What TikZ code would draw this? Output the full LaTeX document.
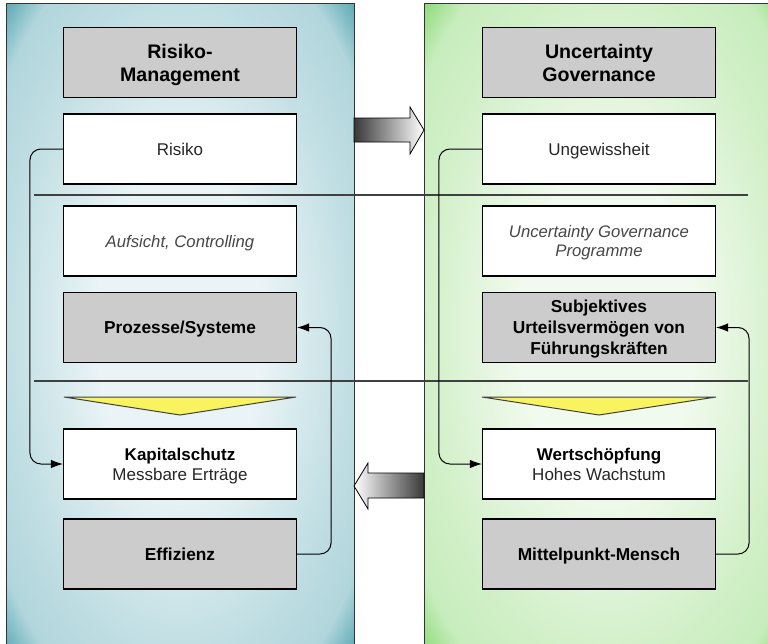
\documentclass[tikz,border=0pt]{standalone}
\usepackage{fontspec}
\setmainfont{Liberation Sans}
\definecolor{TealIn}{HTML}{EAF4F6}
\definecolor{TealMid}{HTML}{C0DEE3}
\definecolor{TealOut}{HTML}{5AA7B3}
\definecolor{GreenIn}{HTML}{F1FAEE}
\definecolor{GreenMid}{HTML}{D2F0C9}
\definecolor{GreenOut}{HTML}{8CDA78}
\definecolor{BoxGray}{HTML}{CCCCCC}
\definecolor{FunnelYellow}{HTML}{F8F35E}
\usetikzlibrary{
  arrows.meta,
  positioning
}
\pgfdeclareradialshading{tealpanel}{\pgfpoint{0bp}{0bp}}{%
  color(0bp)=(TealIn); color(12bp)=(TealIn); color(25bp)=(TealMid);
  color(31.5bp)=(TealMid!85!TealOut); color(35.5bp)=(TealOut); color(50bp)=(TealOut)}
\pgfdeclareradialshading{greenpanel}{\pgfpoint{0bp}{0bp}}{%
  color(0bp)=(GreenIn); color(12bp)=(GreenIn); color(25bp)=(GreenMid);
  color(31.5bp)=(GreenMid!85!GreenOut); color(35.5bp)=(GreenOut); color(50bp)=(GreenOut)}

\begin{document}
\begin{tikzpicture}[
  x=1pt, y=-1pt,
  box/.style={
    rectangle, draw=black, line width=1.1pt,
    minimum width=233pt, minimum height=70pt,
    inner sep=2pt, align=center, text depth=0pt,
    font=\fontsize{17}{20}\selectfont, text=black!85
  },
  whitebox/.style={box, fill=white},
  graybox/.style={
    box, fill=BoxGray, text=black,
    font=\fontsize{17.3}{21}\selectfont\bfseries
  },
  headbox/.style={
    graybox, font=\fontsize{19.6}{23}\selectfont\bfseries
  },
  note/.style={
    font=\fontsize{16.7}{19.5}\selectfont\itshape, text=black!72
  },
  link/.style={
    -{Latex[length=12pt,width=8.5pt]},
    line width=1pt, rounded corners=11pt
  },
  divider/.style={draw=black!75, line width=1.3pt},
  funnel/.style={draw=black!75, line width=1pt, fill=FunnelYellow},
  blockarrow/.style={draw=black, line width=0.8pt}
]
  \useasboundingbox (0,0) rectangle (768,643);
  \clip (0,0) rectangle (768,643);

  % Two shaded panels
  \shadedraw[shading=tealpanel, draw=black!80, line width=1pt]
    (6,3) rectangle (354,652);
  \shadedraw[shading=greenpanel, draw=black!80, line width=1pt]
    (424,3) rectangle (790,652);

  % Block arrows between the panels
  \shadedraw[blockarrow, left color=black!78, right color=white]
    (354,118) -- (410,118) -- (410,107) -- (424,130)
    -- (410,154) -- (410,142) -- (354,142) -- cycle;
  \shadedraw[blockarrow, left color=white, right color=black!78]
    (424,473) -- (368,473) -- (368,463) -- (354,486)
    -- (368,509) -- (368,498) -- (424,498) -- cycle;

  % Dividers across both panels
  \draw[divider] (34,195) -- (748,195);
  \draw[divider] (34,381) -- (748,381);

  % Left column
  \node[headbox] (lhead) at (180,62.5) {Risiko-\\Management};
  \node[whitebox] (risiko) at (180,149) {Risiko};
  \node[whitebox, note] (aufsicht) at (180,241)
    {Aufsicht, Controlling};
  \node[graybox] (prozesse) at (180,327.5) {Prozesse/Systeme};
  \draw[funnel] (64,397) -- (296,397) -- (180,415) -- cycle;
  \node[whitebox] (kapital) at (180,464)
    {\textbf{\color{black}Kapitalschutz}\\Messbare Erträge};
  \node[graybox] (effizienz) at (180,554) {Effizienz};

  % Right column
  \node[headbox] (rhead) at (599,62.5) {Uncertainty\\Governance};
  \node[whitebox] (ungewiss) at (599,149) {Ungewissheit};
  \node[whitebox, note] (programme) at (599,241)
    {Uncertainty Governance\\Programme};
  \node[graybox] (urteil) at (599,327.5)
    {Subjektives\\Urteilsvermögen von\\Führungskräften};
  \draw[funnel] (482,397) -- (716,397) -- (599,415) -- cycle;
  \node[whitebox] (wert) at (599,464)
    {\textbf{\color{black}Wertschöpfung}\\Hohes Wachstum};
  \node[graybox] (mensch) at (599,554) {Mittelpunkt-Mensch};

  % Feedback loops
  \draw[link] (risiko.west) -- ++(-33,0) |- (kapital.west);
  \draw[link] (effizienz.east) -- ++(34,0) |- (prozesse.east);
  \draw[link] (ungewiss.west) -- ++(-43,0) |- (wert.west);
  \draw[link] (mensch.east) -- ++(33,0) |- (urteil.east);
\end{tikzpicture}
\end{document}
